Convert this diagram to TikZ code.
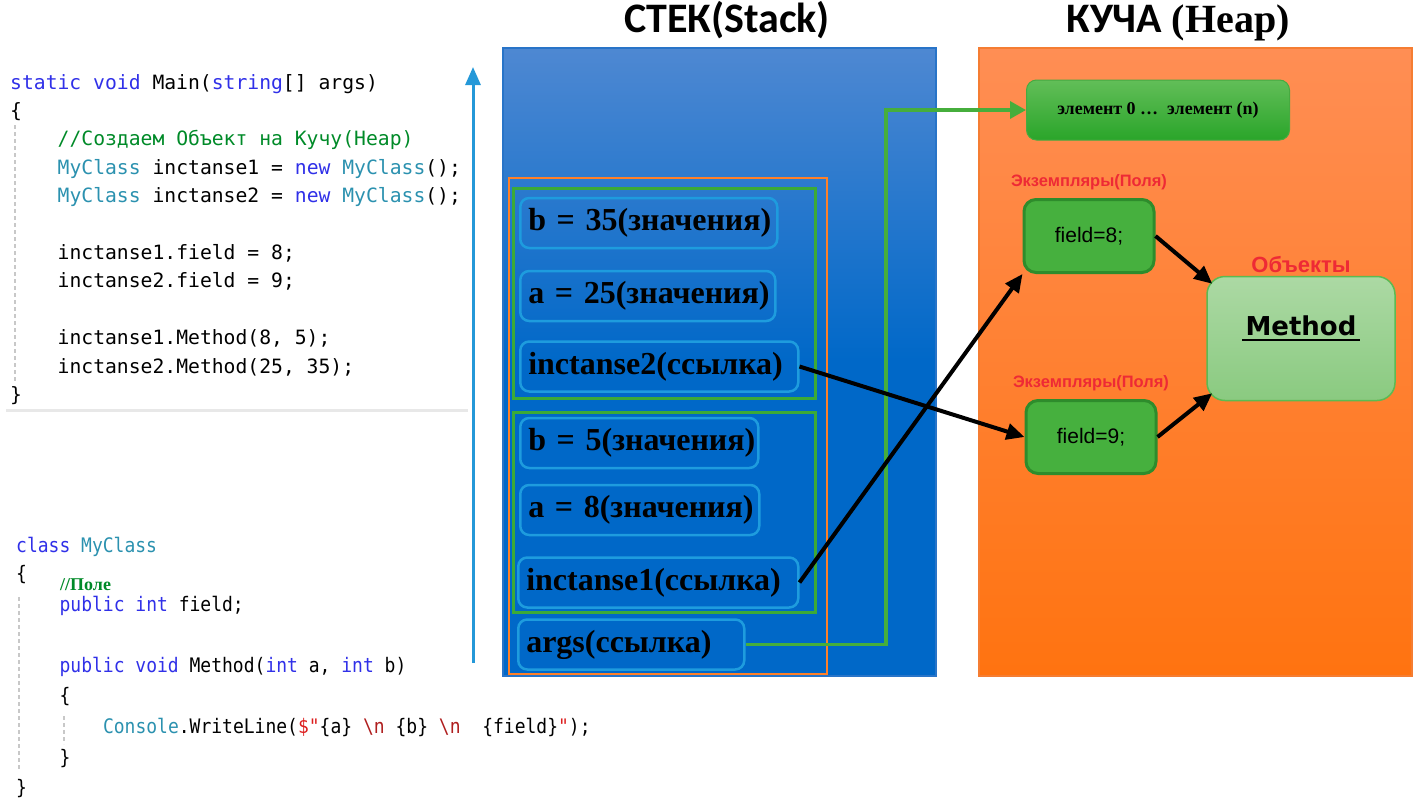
\documentclass[tikz,border=0pt]{standalone}
\usepackage{fontspec}
\usepackage{xcolor}
\usetikzlibrary{arrows.meta,positioning,calc}

\newfontfamily\codefont{DejaVu Sans Mono}
\newfontfamily\codenarrow{DejaVu Sans Mono}[FakeStretch=0.9]
\newfontfamily\titlefont{Carlito}
\newfontfamily\stackfont{Liberation Serif}
\newfontfamily\labelfont{Liberation Sans}
\newfontfamily\methodfont{DejaVu Sans}

\definecolor{stacktop}{RGB}{78,136,210}
\definecolor{stackbot}{RGB}{0,104,200}
\definecolor{stackrim}{RGB}{40,116,200}
\definecolor{heaptop}{RGB}{255,142,84}
\definecolor{heapbot}{RGB}{255,115,16}
\definecolor{heaprim}{RGB}{245,125,50}
\definecolor{frameorange}{RGB}{255,128,40}
\definecolor{framegreen}{RGB}{60,170,55}
\definecolor{itemblue}{RGB}{30,156,222}
\definecolor{fieldgreen}{RGB}{70,176,62}
\definecolor{fieldrim}{RGB}{46,140,44}
\definecolor{elemtop}{RGB}{98,190,88}
\definecolor{elembot}{RGB}{42,165,42}
\definecolor{elemrim}{RGB}{70,170,65}
\definecolor{methtop}{RGB}{172,217,164}
\definecolor{methbot}{RGB}{138,202,128}
\definecolor{methrim}{RGB}{92,186,82}
\definecolor{labelred}{RGB}{238,42,53}
\definecolor{argsgreen}{RGB}{70,174,60}
\definecolor{growblue}{RGB}{36,152,216}
\definecolor{kwblue}{RGB}{48,48,232}
\definecolor{typeteal}{RGB}{43,145,175}
\definecolor{cmgreen}{RGB}{0,138,40}
\definecolor{strred}{RGB}{220,30,30}
\definecolor{escred}{RGB}{175,30,30}
\definecolor{guidegray}{RGB}{200,200,200}
\definecolor{sepgray}{RGB}{232,232,232}

\newcommand{\kwd}[1]{\textcolor{kwblue}{#1}}
\newcommand{\typ}[1]{\textcolor{typeteal}{#1}}
\newcommand{\cmt}[1]{\textcolor{cmgreen}{#1}}
\newcommand{\strc}[1]{\textcolor{strred}{#1}}
\newcommand{\escc}[1]{\textcolor{escred}{#1}}

\tikzset{
  code/.style={anchor=base west, inner sep=0pt, font=\codefont\fontsize{19.7}{24}\selectfont},
  codeb/.style={anchor=base west, inner sep=0pt, font=\codenarrow\fontsize{20}{24}\selectfont},
  guide/.style={guidegray, line width=1.2pt, dash pattern=on 4pt off 3pt},
  stackitem/.style={draw=itemblue, line width=2.5pt, rounded corners=9pt, anchor=west,
    minimum height=50pt, text width=#1, align=left, inner xsep=8pt, inner ysep=0pt,
    font=\stackfont\bfseries\fontsize{32}{38}\selectfont},
  fieldbox/.style={draw=fieldrim, fill=fieldgreen, line width=3pt, rounded corners=12pt,
    minimum width=130pt, minimum height=73pt, font=\labelfont\fontsize{21}{24}\selectfont},
  redlabel/.style={labelred, inner sep=0pt, font=\labelfont\bfseries\fontsize{16.5}{19}\selectfont},
  refarrow/.style={line width=4pt, -{Triangle[length=18pt,width=16pt]}},
}

\begin{document}
\begin{tikzpicture}[x=1pt,y=-1pt]
\useasboundingbox (0,0) rectangle (1414,804);

% code of Main
\node[code] (m1) at (10,89) {\kwd{static} \kwd{void} Main(\kwd{string}[] args)};
\node[code] (m2) at (10,117.4) {\{};
\node[code] (m3) at (57.5,145.8) {\cmt{//Создаем Объект на Кучу(Heap)}};
\node[code] (m4) at (57.5,174.2) {\typ{MyClass} inctanse1 = \kwd{new} \typ{MyClass}();};
\node[code] (m5) at (57.5,202.6) {\typ{MyClass} inctanse2 = \kwd{new} \typ{MyClass}();};
\node[code] (m6) at (57.5,259.4) {inctanse1.field = 8;};
\node[code] (m7) at (57.5,287.8) {inctanse2.field = 9;};
\node[code] (m8) at (57.5,344.6) {inctanse1.Method(8, 5);};
\node[code] (m9) at (57.5,373) {inctanse2.Method(25, 35);};
\node[code] (m10) at (10,401.4) {\}};
\draw[guide] (15,125) -- (15,382);
\draw[sepgray, line width=3pt] (6,410) -- (468,410);

% code of MyClass
\node[codeb] (c1) at (16,552) {\kwd{class} \typ{MyClass}};
\node[codeb] (c2) at (16,580) {\{};
\node[anchor=base west, inner sep=0pt, cmgreen, font=\stackfont\bfseries\fontsize{18}{20}\selectfont] (c3) at (60,590) {//Поле};
\node[codeb] (c4) at (59.4,611) {\kwd{public} \kwd{int} field;};
\node[codeb] (c5) at (59.4,672) {\kwd{public} \kwd{void} Method(\kwd{int} a, \kwd{int} b)};
\node[codeb] (c6) at (59.4,702) {\{};
\node[codeb] (c7) at (102.8,733) {\typ{Console}.WriteLine(\strc{\$\symbol{34}}\{a\} \escc{\textbackslash n} \{b\} \escc{\textbackslash n}\ \ \{field\}\strc{\symbol{34}});};
\node[codeb] (c8) at (59.4,764) {\}};
\node[codeb] (c9) at (16,794) {\}};
\draw[guide] (19,597) -- (19,770);
\draw[guide] (64,716) -- (64,744);

% growth of the stack
\coordinate (growbot) at (473,663);
\coordinate (growtop) at (473,67);
\draw[growblue, line width=3pt, -{Triangle[length=18pt,width=15pt]}] (growbot) -- (growtop);

% stack
\node[anchor=base, font=\titlefont\bfseries\fontsize{42}{48}\selectfont] (stacktitle) at (727,32) {СТЕК(Stack)};
\shade[top color=stacktop, bottom color=stackbot, middle color=stackbot] (503,48) rectangle (936,676);
\draw[stackrim, line width=1.5pt] (503,48) rectangle (936,676);
\draw[frameorange, line width=2.5pt] (509,178) rectangle (827,674);
\draw[framegreen, line width=3pt] (513,188) rectangle (815,398);
\draw[framegreen, line width=3pt] (513,412) rectangle (815,612);

\node[stackitem=241pt] (b35) at (519,223) {b~=~35(значения)};
\node[stackitem=239pt] (a25) at (519,296) {a~=~25(значения)};
\node[stackitem=262pt] (ref2) at (519,366.5) {inctanse2(ссылка)};
\node[stackitem=222pt] (b5) at (519,443) {b~=~5(значения)};
\node[stackitem=223pt] (a8) at (519,510) {a~=~8(значения)};
\node[stackitem=264pt] (ref1) at (517,582.5) {inctanse1(ссылка)};
\node[stackitem=210pt] (args) at (517,644.5) {args(ссылка)};

% heap
\node[anchor=base, font=\titlefont\bfseries\fontsize{42}{48}\selectfont] (heaptitle) at (1178,32)
  {КУЧА {\stackfont\bfseries\fontsize{40}{48}\selectfont(Heap)}};
\shade[top color=heaptop, bottom color=heapbot] (979,48) rectangle (1412,676);
\draw[heaprim, line width=1.5pt] (979,48) rectangle (1412,676);

\node[top color=elemtop, bottom color=elembot, draw=elemrim, line width=1pt, rounded corners=10pt,
  minimum width=263pt, minimum height=60pt, font=\stackfont\bfseries\fontsize{18}{20}\selectfont]
  (elem) at (1158,110) {элемент 0 …~~элемент (n)};

\node[fieldbox] (f8) at (1089,236) {field=8;};
\node[fieldbox] (f9) at (1091,437) {field=9;};
\node[redlabel, above=8pt of f8] (inst8) {Экземпляры(Поля)};
\node[redlabel, above=8pt of f9] (inst9) {Экземпляры(Поля)};

\node[top color=methtop, bottom color=methbot, draw=methrim, line width=1.5pt, rounded corners=18pt,
  minimum width=188pt, minimum height=124pt] (meth) at (1301,338.5) {};
\node[font=\methodfont\bfseries\fontsize{26}{30}\selectfont, yshift=13pt] (methtxt) at (meth.center) {Method};
\draw[line width=2.5pt] ([yshift=-5pt]methtxt.base west) -- ([yshift=-5pt]methtxt.base east);
\node[redlabel, font=\labelfont\bfseries\fontsize{22}{26}\selectfont, above=3pt of meth] (objs) {Объекты};

% links
\coordinate (argup) at (886,110);
\draw[argsgreen, line width=3.5pt, -{Triangle[length=16pt,width=17pt]}] (args.east) -| (argup) -- (elem.west);
\draw[refarrow] (ref2.east) -- (f9.west);
\draw[refarrow] (ref1.east) -- (f8.south west);
\draw[refarrow] (f8.east) -- ($(meth.north west)+(6,8)$);
\draw[refarrow] (f9.east) -- ($(meth.south west)+(6,-8)$);
\end{tikzpicture}
\end{document}
